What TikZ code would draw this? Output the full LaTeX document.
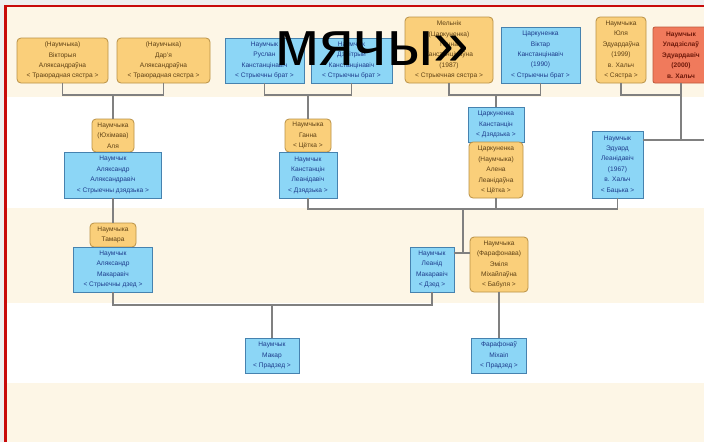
\documentclass[tikz,border=0pt]{standalone}
\usepackage{fontspec}
\setmainfont{Liberation Sans}
\definecolor{cream}{RGB}{253,246,230}
\definecolor{topgray}{RGB}{238,238,238}
\definecolor{framered}{RGB}{200,10,10}
\definecolor{nodeblue}{RGB}{140,214,246}
\definecolor{borderblue}{RGB}{70,130,175}
\definecolor{textblue}{RGB}{30,60,140}
\definecolor{nodeorange}{RGB}{250,207,122}
\definecolor{borderorange}{RGB}{185,145,70}
\definecolor{textbrown}{RGB}{95,65,20}
\definecolor{nodered}{RGB}{240,122,92}
\definecolor{borderred}{RGB}{190,90,60}
\definecolor{textred}{RGB}{110,25,10}
\definecolor{linegray}{RGB}{128,128,128}
\begin{document}
\begin{tikzpicture}[x=1pt,y=-1pt,
  person/.style={draw, line width=0.8pt, align=center, inner sep=0pt,
    font=\fontsize{6.6}{10.4}\selectfont},
  pblue/.style={person, fill=nodeblue, draw=borderblue, text=textblue},
  porange/.style={person, fill=nodeorange, draw=borderorange, text=textbrown, rounded corners=4pt},
  pred/.style={person, fill=nodered, draw=borderred, text=textred, rounded corners=2pt,
    font=\fontsize{6.6}{10.4}\selectfont\bfseries},
  sz/.style 2 args={minimum width=#1pt, minimum height=#2pt},
  link/.style={draw=linegray, line width=1.1pt},
  bigtext/.style={font=\fontsize{64}{70}\selectfont, text=black, inner sep=0pt}
]
\useasboundingbox (0,0) rectangle (704,442);
% background bands and frame
\fill[cream] (0,0) rectangle (704,442);
\fill[white] (0,97) rectangle (704,208);
\fill[white] (0,303) rectangle (704,383);
\fill[topgray] (0,0) rectangle (704,5);
\fill[topgray] (0,5) rectangle (4,442);
\fill[framered] (4,5) rectangle (704,7);
\fill[framered] (4,5) rectangle (6.5,442);

% row 1
\node[porange, sz={91}{45}] (A1) at (62.5,60.5) {(Наумчыка)\\Вікторыя\\Аляксандраўна\\< Траюрадная сястра >};
\node[porange, sz={93}{45}] (A2) at (163.5,60.5) {(Наумчыка)\\Дар'я\\Аляксандраўна\\< Траюрадная сястра >};
\node[pblue, sz={79}{45}] (A3) at (264.5,60.5) {Наумчык\\Руслан\\Канстанцінавіч\\< Стрыечны брат >};
\node[pblue, sz={81}{45}] (A4) at (351.5,60.5) {Наумчык\\Дзмітрый\\Канстанцінавіч\\< Стрыечны брат >};
\node[porange, sz={88}{66}] (A5) at (449,50) {Мельнік\\(Царкуненка)\\Ганна\\Канстанцінаўна\\(1987)\\< Стрыечная сястра >};
\node[pblue, sz={79}{56}] (A6) at (540.5,55) {Царкуненка\\Віктар\\Канстанцінавіч\\(1990)\\< Стрыечны брат >};
\node[porange, sz={50}{66}] (A7) at (621,50) {Наумчыка\\Юля\\Эдуардаўна\\(1999)\\в. Хальч\\< Сястра >};
\node[pred, sz={56}{56}] (A8) at (681,55) {Наумчык\\Уладзіслаў\\Эдуардавіч\\(2000)\\в. Хальч};

% row 2
\node[porange, sz={42}{33}] (B1) at (113,135.5) {Наумчыка\\(Юхімава)\\Аля};
\node[pblue, sz={97}{46}] (B2) at (113,175) {Наумчык\\Аляксандр\\Аляксандравіч\\< Стрыечны дзядзька >};
\node[porange, sz={46}{33}] (B3) at (308,135.5) {Наумчыка\\Ганна\\< Цётка >};
\node[pblue, sz={58}{46}] (B4) at (308,175) {Наумчык\\Канстанцін\\Леанідавіч\\< Дзядзька >};
\node[pblue, sz={56}{35}] (C1) at (496,124.5) {Царкуненка\\Канстанцін\\< Дзядзька >};
\node[porange, sz={54}{56}] (C2) at (496,170) {Царкуненка\\(Наумчыка)\\Алена\\Леанідаўна\\< Цётка >};
\node[pblue, sz={51}{67}] (D) at (617.5,164.5) {Наумчык\\Эдуард\\Леанідавіч\\(1967)\\в. Хальч\\< Бацька >};

% row 3
\node[porange, sz={46}{24}] (E1) at (113,235) {Наумчыка\\Тамара};
\node[pblue, sz={79}{45}] (E2) at (113,269.5) {Наумчык\\Аляксандр\\Макаравіч\\< Стрыечны дзед >};
\node[pblue, sz={44}{45}] (F1) at (432,269.5) {Наумчык\\Леанід\\Макаравіч\\< Дзед >};
\node[porange, sz={58}{55}] (F2) at (499,264.5) {Наумчыка\\(Фарафонава)\\Эміля\\Міхайлаўна\\< Бабуля >};

% row 4
\node[pblue, sz={54}{35}] (G1) at (272,355.5) {Наумчык\\Макар\\< Прадзед >};
\node[pblue, sz={55}{35}] (G2) at (499,355.5) {Фарафонаў\\Міхаіл\\< Прадзед >};

% connectors
\coordinate (j1) at (113,95);
\coordinate (j2) at (308,95);
\coordinate (j3) at (496,95);
\coordinate (j4) at (681,95);
\coordinate (k) at (681,140);
\coordinate (kr) at (706,140);
\coordinate (h1) at (463,209);
\coordinate (m1) at (463,253);
\coordinate (h2) at (272,305);

\draw[link] (A1.south) -- (A1.south|-j1) -- (A2.south|-j1) -- (A2.south);
\draw[link] (j1) -- (B1.north);
\draw[link] (A3.south) -- (A3.south|-j2) -- (A4.south|-j2) -- (A4.south);
\draw[link] (j2) -- (B3.north);
\draw[link] (A5.south) -- (A5.south|-j3) -- (A6.south|-j3) -- (A6.south);
\draw[link] (j3) -- (C1.north);
\draw[link] (A7.south) -- (A7.south|-j4) -- (A8.south|-j4) -- (A8.south);
\draw[link] (j4) -- (k);
\draw[link] (D.east|-k) -- (kr);

\draw[link] (B2.south) -- (E1.north);
\draw[link] (B4.south) -- (B4.south|-h1) -- (D.south|-h1) -- (D.south);
\draw[link] (C2.south) -- (C2.south|-h1);
\draw[link] (h1) -- (m1);
\draw[link] (F1.east|-m1) -- (F2.west|-m1);

\draw[link] (E2.south) -- (E2.south|-h2) -- (F1.south|-h2) -- (F1.south);
\draw[link] (h2) -- (G1.north);
\draw[link] (F2.south) -- (G2.north);

% overlaid title fragment
\node[bigtext, anchor=base west] (title) at (275,65) {мячы»};
\end{tikzpicture}
\end{document}
